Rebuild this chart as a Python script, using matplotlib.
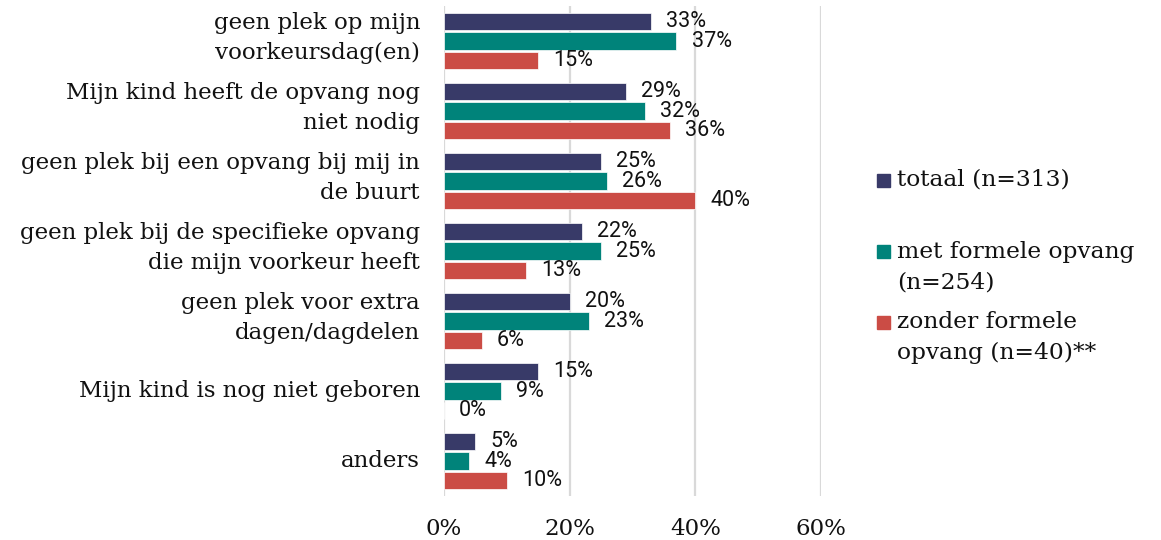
import matplotlib.pyplot as plt
from matplotlib.patches import Rectangle
import numpy as np

categories = ['geen plek op mijn\nvoorkeursdag(en)',
              'Mijn kind heeft de opvang nog\nniet nodig',
              'geen plek bij een opvang bij mij in\nde buurt',
              'geen plek bij de specifieke opvang\ndie mijn voorkeur heeft',
              'geen plek voor extra\ndagen/dagdelen',
              'Mijn kind is nog niet geboren',
              'anders']
totaal = [33, 29, 25, 22, 20, 15, 5]
met_formele = [37, 32, 26, 25, 23, 9, 4]
zonder_formele = [15, 36, 40, 13, 6, 0, 10]
series_names = ['totaal (n=313)', 'met formele opvang\n(n=254)', 'zonder formele\nopvang (n=40)**']
colors = ['#383a68', '#00837a', '#cb4c45']
xticks = [0, 20, 40, 60]

W, H = 1161, 540
fig = plt.figure(figsize=(W / 100, H / 100), dpi=100)
ax = fig.add_axes([444 / W, 1 - 496 / H, (821 - 444) / W, (496 - 6) / H])

y = np.arange(len(categories))
step = 0.28
bh = 0.245
for k, vals in enumerate([totaal, met_formele, zonder_formele]):
    pos = y + (k - 1) * step
    ax.barh(pos, vals, height=bh, color=colors[k], edgecolor='white', linewidth=0.5, zorder=3)
    for p, v in zip(pos, vals):
        ax.text(v + 2.4, p, f'{v}%', va='center', ha='left', fontsize=15.5,
                family='Roboto', color='#111111', zorder=4)

ax.set_ylim(len(categories) - 0.5, -0.5)
ax.set_xlim(0, 60)
ax.set_yticks(y)
ax.set_yticklabels([])
# category labels as annotations so multi-line ones can be nudged up a little
for yi, cat in zip(y, categories):
    dy = 3 if '\n' in cat else 0
    ax.annotate(cat, xy=(0, yi), xycoords=('axes fraction', 'data'),
                xytext=(-24 * 0.72, dy * 0.72), textcoords='offset points',
                ha='right', va='center', multialignment='right', linespacing=1.42,
                family='DejaVu Serif', fontsize=16.5, color='#111111')
ax.set_xticks(xticks)
ax.set_xticklabels([f'{t}%' for t in xticks], family='DejaVu Serif', fontsize=16.5, color='#111111')
ax.tick_params(axis='both', length=0)
ax.tick_params(axis='x', pad=16)
ax.grid(axis='x', color='#d9d9d9', linewidth=1.6, zorder=0)
for s in ax.spines.values():
    s.set_visible(False)

# legend drawn by hand so the square sits on the first line
leg_y = [180, 252, 322]
line_h = 31
for k, name in enumerate(series_names):
    yc = leg_y[k]
    fig.patches.append(Rectangle((877 / W, 1 - (yc + 6.5) / H), 13 / W, 13 / H,
                                 transform=fig.transFigure, color=colors[k]))
    for j, line in enumerate(name.split('\n')):
        fig.text(897 / W, 1 - (yc + j * line_h) / H, line, va='center', ha='left',
                 family='DejaVu Serif', fontsize=16.8, color='#111111')

fig.savefig('out.png', dpi=100)
